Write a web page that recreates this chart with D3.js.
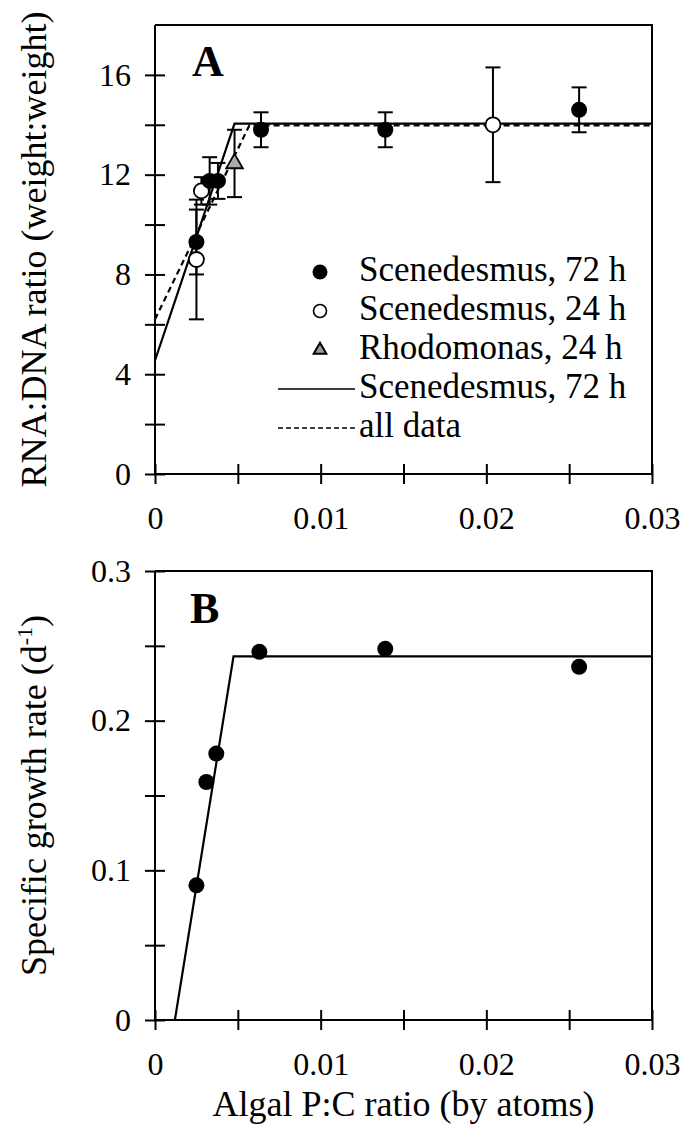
<!DOCTYPE html>
<html>
<head>
<meta charset="utf-8">
<script src="https://cdn.jsdelivr.net/npm/d3@7"></script>
<style>
  body { margin: 0; background: #fff; }
  svg text { font-family: "Liberation Serif", "Times New Roman", Times, serif !important; }
</style>
</head>
<body>
<script>
// panel A: RNA:DNA ratio vs algal P:C
var xScen72 = [0.0025, 0.0033, 0.0038, 0.0064, 0.0139, 0.0256];
var yScen72 = [9.3, 11.75, 11.75, 13.8, 13.8, 14.6];
var eScen72 = [1.3, 0.95, 0.72, 0.7, 0.7, 0.9];

var xScen24 = [0.0025, 0.0028, 0.0204];
var yScen24 = [8.6, 11.35, 14.0];
var eScen24 = [2.4, 0.55, 2.3];

var xRhodo24 = [0.0048];
var yRhodo24 = [12.45];
var eRhodo24 = [1.35];

var fitSolidX = [0, 0.0048, 0.03];
var fitSolidY = [4.55, 14.05, 14.05];
var fitDashX = [0, 0.0057, 0.03];
var fitDashY = [6.2, 13.98, 13.98];

// panel B: growth rate vs algal P:C
var xGrowth = [0.0025, 0.0031, 0.0037, 0.0063, 0.0139, 0.0256];
var yGrowth = [0.090, 0.159, 0.178, 0.246, 0.248, 0.236];
var fitBX = [0.0012, 0.00474, 0.03];
var fitBY = [0, 0.243, 0.243];

var xTicks = [0, 0.005, 0.01, 0.015, 0.02, 0.025, 0.03];
var xLabels = [0, 0.01, 0.02, 0.03];
var yTicksA = [0, 2, 4, 6, 8, 10, 12, 14, 16];
var yLabelsA = [0, 4, 8, 12, 16];
var yTicksB = [0, 0.05, 0.1, 0.15, 0.2, 0.25, 0.3];
var yLabelsB = [0, 0.1, 0.2, 0.3];

var legendNames = ["Scenedesmus, 72 h", "Scenedesmus, 24 h", "Rhodomonas, 24 h", "Scenedesmus, 72 h", "all data"];
var legendKinds = ["filled", "open", "triangle", "solid", "dashed"];

var SERIF = '"Liberation Serif", "Times New Roman", Times, serif';
var W = 695, H = 1132;
var left = 155, right = 652;

var svg = d3.select("body").append("svg")
  .attr("width", W).attr("height", H)
  .attr("font-family", SERIF);

svg.append("rect").attr("width", W).attr("height", H).attr("fill", "#fff");

var x = d3.scaleLinear().domain([0, 0.03]).range([left, right]);
var yA = d3.scaleLinear().domain([0, 18]).range([474, 25]);
var yB = d3.scaleLinear().domain([0, 0.3]).range([1020, 571]);

function fmt(d) { return d === 0 ? "0" : String(d); }

function drawAxes(y, yTicks, yLabels, top, bottom) {
  var g = svg.append("g");
  // box top / right
  g.append("path")
    .attr("d", "M" + left + "," + top + "H" + right + "V" + bottom)
    .attr("fill", "none").attr("stroke", "#000").attr("stroke-width", 2);

  var yAxis = d3.axisLeft(y).tickValues(yTicks)
    .tickFormat(function(d) { return yLabels.indexOf(d) >= 0 ? fmt(d) : ""; })
    .tickSize(10).tickPadding(14);
  var ya = g.append("g").attr("transform", "translate(" + left + ",0)").call(yAxis)
    .attr("font-family", SERIF).attr("font-size", 32);
  ya.selectAll(".tick line").attr("x1", -10).attr("x2", 10).attr("stroke-width", 2);
  ya.select("path.domain").attr("stroke-width", 2).attr("d", "M0," + bottom + "V" + top);

  var xAxis = d3.axisBottom(x).tickValues(xTicks)
    .tickFormat(function(d) { return xLabels.indexOf(d) >= 0 ? fmt(d) : ""; })
    .tickSize(10).tickPadding(22);
  var xa = g.append("g").attr("transform", "translate(0," + bottom + ")").call(xAxis)
    .attr("font-family", SERIF).attr("font-size", 32);
  xa.selectAll(".tick line").attr("y1", -10).attr("y2", 10).attr("stroke-width", 2);
  xa.select("path.domain").attr("stroke-width", 2).attr("d", "M" + left + ",0H" + right);
}

drawAxes(yA, yTicksA, yLabelsA, 25, 474);
drawAxes(yB, yTicksB, yLabelsB, 571, 1020);

// panel letters
svg.append("text").attr("x", 192).attr("y", 76)
  .attr("font-size", 44).attr("font-weight", "bold").text("A");
svg.append("text").attr("x", 190).attr("y", 623)
  .attr("font-size", 44).attr("font-weight", "bold").text("B");

// axis titles
svg.append("text")
  .attr("transform", "translate(46," + (25 + 474) / 2 + ") rotate(-90)")
  .attr("text-anchor", "middle").attr("font-size", 36)
  .text("RNA:DNA ratio (weight:weight)");

var tB = svg.append("text")
  .attr("transform", "translate(46," + (571 + 1020) / 2 + ") rotate(-90)")
  .attr("text-anchor", "middle").attr("font-size", 36);
tB.append("tspan").text("Specific growth rate (d");
tB.append("tspan").attr("dy", -14).attr("font-size", 22).text("-1");
tB.append("tspan").attr("dy", 14).text(")");

svg.append("text").attr("x", (left + right) / 2).attr("y", 1116)
  .attr("text-anchor", "middle").attr("font-size", 36)
  .text("Algal P:C ratio (by atoms)");

// fit lines
var lineA = d3.line().x(function(d) { return x(d[0]); }).y(function(d) { return yA(d[1]); });
var lineB = d3.line().x(function(d) { return x(d[0]); }).y(function(d) { return yB(d[1]); });

svg.append("path").datum(d3.zip(fitDashX, fitDashY)).attr("d", lineA)
  .attr("fill", "none").attr("stroke", "#000").attr("stroke-width", 2.2)
  .attr("stroke-dasharray", "6,4");
svg.append("path").datum(d3.zip(fitSolidX, fitSolidY)).attr("d", lineA)
  .attr("fill", "none").attr("stroke", "#000").attr("stroke-width", 2.2);
svg.append("path").datum(d3.zip(fitBX, fitBY)).attr("d", lineB)
  .attr("fill", "none").attr("stroke", "#000").attr("stroke-width", 2.2);

// error bars
function errorBars(xs, ys, es) {
  var g = svg.append("g").attr("stroke", "#000").attr("stroke-width", 2);
  var data = d3.zip(xs, ys, es);
  g.selectAll(".v").data(data).enter().append("line")
    .attr("x1", function(d) { return x(d[0]); }).attr("x2", function(d) { return x(d[0]); })
    .attr("y1", function(d) { return yA(d[1] - d[2]); })
    .attr("y2", function(d) { return yA(d[1] + d[2]); });
  [-1, 1].forEach(function(s) {
    g.selectAll(".c" + s).data(data).enter().append("line")
      .attr("x1", function(d) { return x(d[0]) - 7.5; })
      .attr("x2", function(d) { return x(d[0]) + 7.5; })
      .attr("y1", function(d) { return yA(d[1] + s * d[2]); })
      .attr("y2", function(d) { return yA(d[1] + s * d[2]); });
  });
}
errorBars(xScen24, yScen24, eScen24);
errorBars(xScen72, yScen72, eScen72);
errorBars(xRhodo24, yRhodo24, eRhodo24);

var tri = d3.symbol().type(d3.symbolTriangle).size(120);

svg.append("g").selectAll("path").data(d3.zip(xRhodo24, yRhodo24)).enter().append("path")
  .attr("d", tri)
  .attr("transform", function(d) { return "translate(" + x(d[0]) + "," + yA(d[1]) + ")"; })
  .attr("fill", "#aaa").attr("stroke", "#000").attr("stroke-width", 1.8);

svg.append("g").selectAll("circle").data(d3.zip(xScen24, yScen24)).enter().append("circle")
  .attr("cx", function(d) { return x(d[0]); }).attr("cy", function(d) { return yA(d[1]); })
  .attr("r", 7.5).attr("fill", "#fff").attr("stroke", "#000").attr("stroke-width", 1.8);

svg.append("g").selectAll("circle").data(d3.zip(xScen72, yScen72)).enter().append("circle")
  .attr("cx", function(d) { return x(d[0]); }).attr("cy", function(d) { return yA(d[1]); })
  .attr("r", 8).attr("fill", "#000");

svg.append("g").selectAll("circle").data(d3.zip(xGrowth, yGrowth)).enter().append("circle")
  .attr("cx", function(d) { return x(d[0]); }).attr("cy", function(d) { return yB(d[1]); })
  .attr("r", 8).attr("fill", "#000");

// legend
var legend = svg.append("g").selectAll("g").data(legendNames).enter().append("g")
  .attr("transform", function(d, i) { return "translate(0," + (272 + i * 39) + ")"; });

legend.each(function(d, i) {
  var g = d3.select(this), k = legendKinds[i];
  if (k === "filled") g.append("circle").attr("cx", 320).attr("r", 7.5).attr("fill", "#000");
  if (k === "open") g.append("circle").attr("cx", 320).attr("r", 6.5).attr("fill", "#fff")
    .attr("stroke", "#000").attr("stroke-width", 1.6);
  if (k === "triangle") g.append("path").attr("d", d3.symbol().type(d3.symbolTriangle).size(70))
    .attr("transform", "translate(320,0)").attr("fill", "#999").attr("stroke", "#000").attr("stroke-width", 2);
  if (k === "solid" || k === "dashed") g.append("line").attr("x1", 278).attr("x2", 355)
    .attr("stroke", "#000").attr("stroke-width", 1.6)
    .attr("stroke-dasharray", k === "dashed" ? "5,3" : null);
  g.append("text").attr("x", 359).attr("y", 9).attr("font-size", 35).text(d);
});
</script>
</body>
</html>
